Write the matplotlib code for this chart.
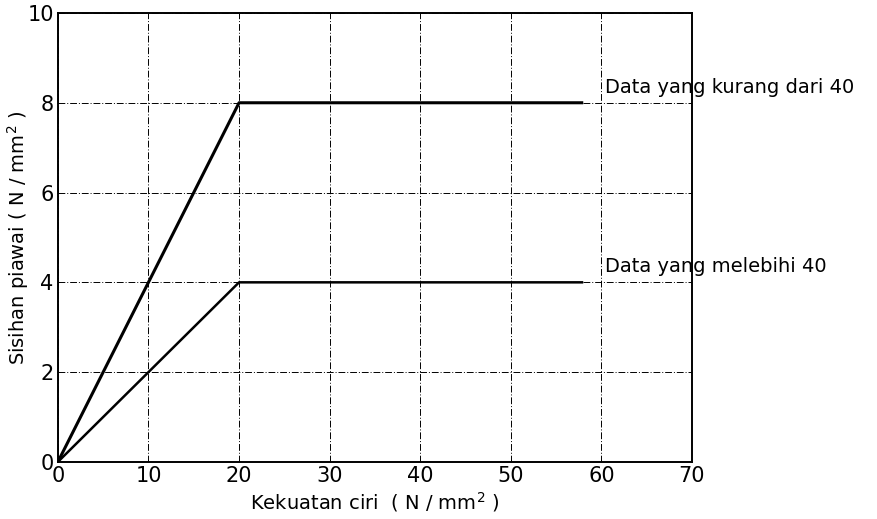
import matplotlib
matplotlib.use("Agg")
import matplotlib.pyplot as plt

# data
x_kurang = [0, 20, 58]
y_kurang = [0, 8, 8]
x_lebih = [0, 20, 58]
y_lebih = [0, 4, 4]
label_kurang = "Data yang kurang dari 40"
label_lebih = "Data yang melebihi 40"
xticks = [0, 10, 20, 30, 40, 50, 60, 70]
yticks = [0, 2, 4, 6, 8, 10]

plt.rcParams['font.family'] = ['DejaVu Sans']

fig = plt.figure(figsize=(8.77, 5.19), dpi=100)
ax = fig.add_axes([0.066, 0.11, 0.723, 0.865])

ax.plot(x_kurang, y_kurang, color="black", lw=2.2, solid_capstyle="butt")
ax.plot(x_lebih, y_lebih, color="black", lw=1.8, solid_capstyle="butt")

ax.text(60.4, y_kurang[-1] + 0.35, label_kurang, fontsize=14, va="center", ha="left")
ax.text(60.4, y_lebih[-1] + 0.35, label_lebih, fontsize=14, va="center", ha="left")

ax.set_xlim(0, 70)
ax.set_ylim(0, 10)
ax.set_xticks(xticks)
ax.set_yticks(yticks)
ax.tick_params(length=0, labelsize=15, pad=3)
ax.grid(True, color="black", lw=0.7, linestyle=(0, (7, 2, 1, 2)))
for s in ax.spines.values():
    s.set_linewidth(1.4)

ax.set_xlabel("Kekuatan ciri  ( N / mm$^2$ )", fontsize=14, labelpad=3)
ax.set_ylabel("Sisihan piawai ( N / mm$^2$ )", fontsize=14)
ax.yaxis.set_label_coords(-0.043, 0.5)

fig.savefig("out.png", dpi=100)
